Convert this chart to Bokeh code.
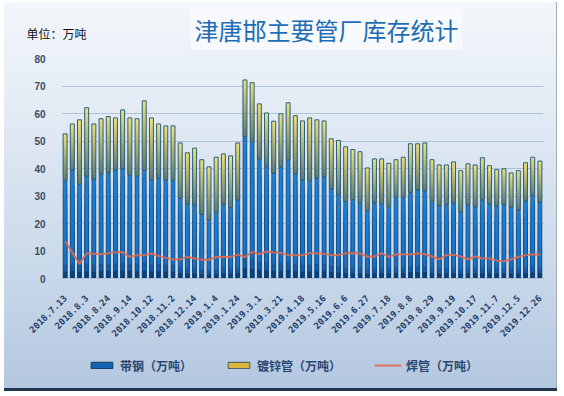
import numpy as np
from bokeh.plotting import figure
from bokeh.layouts import column
from bokeh.models import Range1d, FixedTicker, Label, Legend, LegendItem
from bokeh.embed import file_html
from bokeh.resources import INLINE

dates = [
    "2018.7.13", "2018.7.20", "2018.7.27", "2018.8.3", "2018.8.10", "2018.8.17",
    "2018.8.24", "2018.8.31", "2018.9.7", "2018.9.14", "2018.9.21", "2018.9.28",
    "2018.10.12", "2018.10.19", "2018.10.26", "2018.11.2", "2018.11.16", "2018.11.30",
    "2018.12.14", "2018.12.21", "2018.12.28", "2019.1.4", "2019.1.11", "2019.1.18",
    "2019.1.24", "2019.1.31", "2019.2.22", "2019.3.1", "2019.3.8", "2019.3.15",
    "2019.3.21", "2019.3.28", "2019.4.4", "2019.4.18", "2019.4.25", "2019.5.9",
    "2019.5.16", "2019.5.23", "2019.5.30", "2019.6.6", "2019.6.13", "2019.6.20",
    "2019.6.27", "2019.7.4", "2019.7.11", "2019.7.18", "2019.7.25", "2019.8.1",
    "2019.8.8", "2019.8.15", "2019.8.22", "2019.8.29", "2019.9.5", "2019.9.12",
    "2019.9.19", "2019.9.26", "2019.10.10", "2019.10.17", "2019.10.24", "2019.10.31",
    "2019.11.7", "2019.11.14", "2019.11.28", "2019.12.5", "2019.12.12", "2019.12.19",
    "2019.12.26",
]

# 带钢（万吨）
daigang = [
    35.6, 39.5, 34.2, 37.3, 36.2, 38.1, 38.5, 39.5, 39.9, 37.7, 37.3, 39.3,
    35.9, 36.6, 35.9, 35.6, 29.3, 27.2, 26.8, 23.5, 21.3, 24.0, 26.9, 25.8,
    28.6, 51.6, 49.9, 43.3, 40.7, 38.4, 40.6, 43.2, 38.1, 35.9, 35.6, 36.6,
    37.0, 32.6, 30.5, 28.0, 28.7, 27.6, 24.7, 27.5, 27.2, 26.2, 29.5, 29.5,
    31.3, 32.2, 31.9, 28.1, 26.5, 26.9, 27.5, 24.2, 26.8, 26.1, 28.6, 27.2,
    26.4, 26.9, 25.8, 25.0, 28.2, 30.1, 27.8,
]

# 镀锌管（万吨）
duxinguan = [
    17.0, 16.7, 23.5, 24.8, 20.0, 20.0, 20.4, 18.9, 21.4, 20.7, 20.8, 25.3,
    22.5, 19.6, 19.6, 19.9, 20.0, 18.5, 20.6, 19.7, 19.3, 20.1, 18.4, 18.8,
    20.7, 20.6, 21.3, 20.2, 19.5, 18.8, 19.3, 20.7, 21.1, 21.4, 22.8, 21.1,
    20.3, 18.2, 19.7, 19.9, 18.2, 18.5, 15.5, 16.0, 16.3, 15.7, 13.7, 14.6,
    17.7, 16.8, 17.4, 15.1, 14.8, 14.4, 14.9, 15.0, 14.9, 15.2, 15.3, 13.8,
    13.2, 13.0, 12.6, 14.2, 13.9, 14.0, 14.9,
]

# 焊管（万吨）
hanguan = [
    13.6, 9.5, 5.3, 9.2, 9.0, 8.8, 9.2, 9.5, 9.6, 7.8, 8.5, 8.5,
    9.1, 8.2, 7.5, 6.9, 6.9, 7.9, 7.3, 6.8, 6.8, 7.8, 7.8, 7.8,
    8.7, 7.8, 9.7, 8.8, 9.8, 9.5, 9.3, 8.5, 8.5, 8.5, 9.2, 9.2,
    9.0, 8.5, 8.5, 9.2, 9.3, 9.1, 8.0, 8.0, 9.2, 7.9, 8.8, 8.8,
    8.7, 9.2, 8.8, 8.0, 7.0, 8.5, 8.6, 8.0, 7.0, 8.0, 7.3, 7.3,
    6.5, 6.3, 7.0, 7.8, 8.5, 8.8, 8.7,
]

y_ticks = [0, 10, 20, 30, 40, 50, 60, 70, 80]
label_step = 3
title_text = "津唐邯主要管厂库存统计"
unit_text = "单位：万吨"
series_names = ["带钢（万吨）", "镀锌管（万吨）", "焊管（万吨）"]

x = list(range(len(dates)))
blue = np.array(daigang)
zinc = np.array(duxinguan)
total = blue + zinc


def hex2rgb(h):
    h = h.lstrip("#")
    return np.array([int(h[i:i + 2], 16) for i in (0, 2, 4)], dtype=float)


def grad(stops, f):
    for (f0, c0), (f1, c1) in zip(stops[:-1], stops[1:]):
        if f0 <= f <= f1:
            t = 0 if f1 == f0 else (f - f0) / (f1 - f0)
            c = hex2rgb(c0) * (1 - t) + hex2rgb(c1) * t
            return "#%02x%02x%02x" % tuple(int(round(v)) for v in c)
    return stops[-1][1]


blue_stops = [(0.0, "#072a52"), (0.06, "#124f92"), (0.18, "#1c6fbf"), (1.0, "#2180d0")]
yellow_stops = [(0.0, "#5b7a72"), (0.5, "#a9ad74"), (1.0, "#ede27a")]

WIDTH = 557
BORDER_L, BORDER_R = 61, 14
TOP_H, MAIN_H, BOT_H = 50, 295, 46


def bare(height, y_axis=None):
    f = figure(width=WIDTH, height=height, output_backend="svg",
               toolbar_location=None, x_axis_location=None, y_axis_location=y_axis,
               x_range=Range1d(BORDER_L, WIDTH - BORDER_R),
               y_range=Range1d(0, height),
               min_border_left=BORDER_L, min_border_right=BORDER_R,
               min_border_top=0, min_border_bottom=0)
    f.border_fill_color = None
    f.background_fill_color = None
    f.outline_line_color = None
    f.grid.visible = False
    return f


# ---- title strip (unit note sits on the strip's left axis) ----
unit_y = 17
pt = bare(TOP_H, y_axis="left")
pt.add_layout(Label(x=190, y=21, text=title_text, text_align="left",
                    text_baseline="middle", text_font="Noto Sans CJK SC",
                    text_font_size="24px", text_color="#1f6db6",
                    background_fill_color="#f8fafd", background_fill_alpha=0.9,
                    padding=4))
pt.yaxis.ticker = FixedTicker(ticks=[unit_y])
pt.yaxis.major_label_overrides = {unit_y: unit_text}
pt.yaxis.axis_line_color = None
pt.yaxis.major_tick_line_color = None
pt.yaxis.minor_tick_line_color = None
pt.yaxis.major_label_text_font = "Noto Sans CJK SC"
pt.yaxis.major_label_text_font_size = "12px"
pt.yaxis.major_label_text_color = "#111111"
pt.yaxis.major_label_standoff = -31

# ---- main chart ----
p = figure(width=WIDTH, height=MAIN_H, output_backend="svg", toolbar_location=None,
           x_range=Range1d(-0.5, len(dates) - 0.5), y_range=Range1d(0, 80),
           min_border_left=BORDER_L, min_border_right=BORDER_R, min_border_top=8,
           min_border_bottom=67)
p.title.visible = False
p.border_fill_color = None
p.background_fill_color = None
p.outline_line_color = None

W = 0.55
NB = 14
for k in range(NB, 0, -1):
    f = k / NB
    p.vbar(x=x, bottom=0, top=blue * f, width=W,
           fill_color=grad(blue_stops, f - 0.5 / NB), line_color=None)
p.vbar(x=x, bottom=0, top=blue, width=W, fill_color=None,
       line_color="#0c3a66", line_width=1, line_alpha=0.6)
for k in range(NB, 0, -1):
    f = k / NB
    p.vbar(x=x, bottom=blue, top=blue + zinc * f, width=W,
           fill_color=grad(yellow_stops, f - 0.5 / NB), line_color=None)
p.vbar(x=x, bottom=blue, top=total, width=W, fill_color=None,
       line_color="#2a5f7c", line_width=1)
p.line(x, hanguan, line_color="#dc6a52", line_width=2, line_alpha=0.9)

p.xgrid.visible = False
p.ygrid.grid_line_color = "#adc3dc"
p.ygrid.grid_line_width = 1
p.yaxis.ticker = FixedTicker(ticks=y_ticks)
p.yaxis.axis_line_color = None
p.yaxis.major_tick_line_color = None
p.yaxis.minor_tick_line_color = None
p.yaxis.major_label_text_font = "Liberation Sans"
p.yaxis.major_label_text_font_size = "10px"
p.yaxis.major_label_text_font_style = "bold"
p.yaxis.major_label_text_color = "#3a4c62"
p.yaxis.major_label_standoff = 10

xt = list(range(0, len(dates), label_step))
p.xaxis.ticker = FixedTicker(ticks=xt)
p.xaxis.major_label_overrides = {i: dates[i] for i in xt}
p.xaxis.major_label_orientation = np.pi / 4
p.xaxis.axis_line_color = "#a6bad2"
p.xaxis.major_tick_line_color = None
p.xaxis.minor_tick_line_color = None
p.xaxis.major_label_text_font = "DejaVu Sans Mono"
p.xaxis.major_label_text_font_size = "9px"
p.xaxis.major_label_text_font_style = "bold"
p.xaxis.major_label_text_color = "#253f6a"
p.xaxis.major_label_standoff = 12

# ---- legend strip ----
pb = bare(BOT_H)
sw_blue = pb.vbar(x=[BORDER_L], bottom=[0], top=[0], width=0,
                  fill_color="#1462b2", line_color="#0c3760")
sw_yel = pb.vbar(x=[BORDER_L], bottom=[0], top=[0], width=0,
                 fill_color="#ddb73c", line_color="#3a5566")
sw_line = pb.line(x=[BORDER_L, BORDER_L], y=[0, 0], line_color="#dc6a52",
                  line_width=2, line_alpha=0.9)
legend = Legend(items=[
    LegendItem(label=series_names[0], renderers=[sw_blue]),
    LegendItem(label=series_names[1], renderers=[sw_yel]),
    LegendItem(label=series_names[2], renderers=[sw_line]),
], orientation="horizontal", location=(27, 17), padding=0, margin=0,
    spacing=33, glyph_width=27, glyph_height=8, label_standoff=5, label_height=18,
    label_text_font="Noto Sans CJK SC", label_text_font_size="12px",
    label_text_font_style="bold", label_text_color="#2a4670",
    border_line_color=None, background_fill_alpha=0)
pb.add_layout(legend)

layout = column(pt, p, pb, spacing=0)
layout.styles = {
    "background": "linear-gradient(to bottom, #f4f7fb 0%, #e2eaf4 30%, #c9d8ea 70%, #b3c7df 100%)",
    "box-shadow": ("inset 4px 2px 0 #ffffff, inset 0 -3px 0 #22364f, "
                   "inset -1px 0 0 #a3adb9"),
}

open("out.html", "w").write(file_html(layout, INLINE))
